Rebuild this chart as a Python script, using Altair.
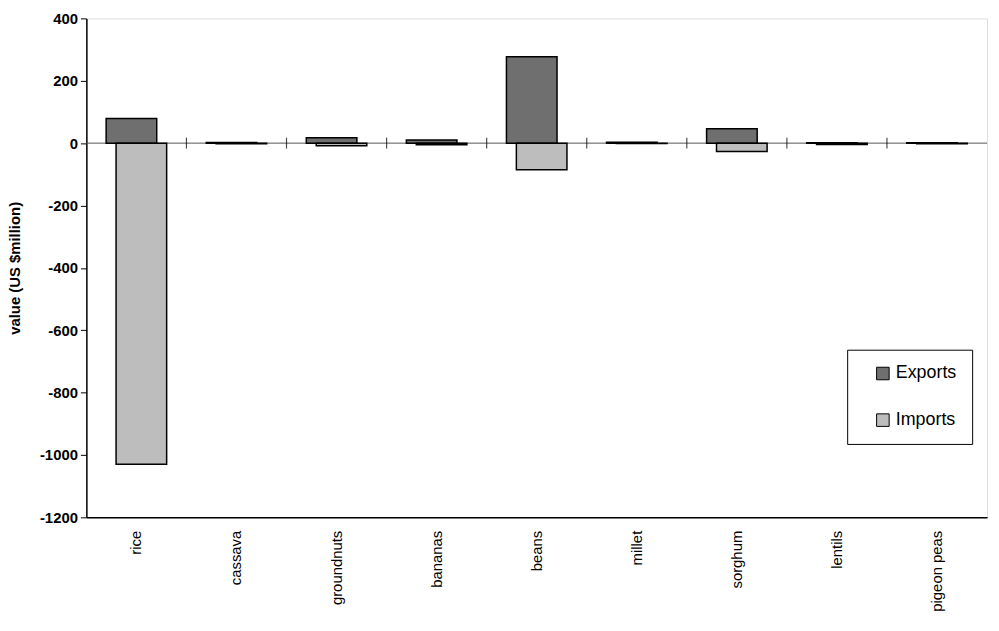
import altair as alt
import pandas as pd

categories = ["rice", "cassava", "groundnuts", "bananas", "beans", "millet", "sorghum", "lentils", "pigeon peas"]
exports = [79, 2, 17, 10, 277, 3, 46, 1, 1]
imports = [-1030, -2, -8, -5, -85, -1, -27, -4, -2]
y_ticks = [-1200, -1000, -800, -600, -400, -200, 0, 200, 400]

rows = []
for c, e, i in zip(categories, exports, imports):
    rows.append({"crop": c, "series": "Exports", "value": e})
    rows.append({"crop": c, "series": "Imports", "value": i})
df = pd.DataFrame(rows)
tick_df = pd.DataFrame({"crop": categories[:-1], "value": [0] * (len(categories) - 1)})
zero_df = pd.DataFrame({"value": [0]})

W, H = 908, 503
band = W / len(categories)
FONT = "Liberation Sans"

xenc = alt.X("crop:N", sort=categories, title=None,
             scale=alt.Scale(paddingInner=0, paddingOuter=0),
             axis=alt.Axis(labelAngle=-90, labelFont=FONT, labelFontSize=15,
                           labelColor="black", labelPadding=13, ticks=False,
                           domainColor="black", domainWidth=1.5,
                           labelBaseline="middle", labelAlign="right"))
yenc = alt.Y("value:Q", title="value (US $million)",
             scale=alt.Scale(domain=[-1200, 400], nice=False, zero=False),
             axis=alt.Axis(values=y_ticks, labelExpr="'' + datum.value", grid=False,
                           labelFont=FONT, labelFontSize=15, labelFontWeight="bold",
                           labelColor="black", tickColor="black", tickSize=6,
                           labelPadding=3,
                           domainColor="black", domainWidth=1.5,
                           titleFont=FONT, titleFontSize=15, titleFontWeight="bold",
                           titleColor="black", titleX=-72, titleBaseline="middle"))

color = alt.Color("series:N",
                  scale=alt.Scale(domain=["Exports", "Imports"], range=["#6f6f6f", "#bdbdbd"]),
                  legend=alt.Legend(title=None, orient="none", legendX=767, legendY=334,
                                    strokeColor="black", fillColor="white", padding=15,
                                    symbolType="square", symbolSize=160,
                                    symbolStrokeColor="black", symbolStrokeWidth=1,
                                    labelFont=FONT, labelFontSize=18, labelColor="black",
                                    rowPadding=29, symbolOffset=12, labelOffset=4,
                                    labelLimit=200, cornerRadius=0))

base = alt.Chart(df)
exp_bars = base.transform_filter(alt.datum.series == "Exports").mark_bar(
    width=51, xOffset=-5, stroke="black", strokeWidth=1.5).encode(x=xenc, y=yenc, color=color)
imp_bars = base.transform_filter(alt.datum.series == "Imports").mark_bar(
    width=51, xOffset=5, stroke="black", strokeWidth=1.5).encode(x=xenc, y=yenc, color=color)

zero_line = alt.Chart(zero_df).mark_rule(color="#555555", strokeWidth=1).encode(y="value:Q")
ticks = alt.Chart(tick_df).mark_tick(orient="vertical", size=11, thickness=1.2,
                                     color="black", xOffset=band / 2).encode(
    x=alt.X("crop:N", sort=categories), y="value:Q")

chart = alt.layer(zero_line, exp_bars, imp_bars, ticks).properties(
    width=W, height=H,
    autosize=alt.AutoSizeParams(type="none"),
    padding={"left": 79, "top": 8, "right": 4, "bottom": 100}
).configure_view(stroke="black", strokeWidth=1.5).configure(background="white")

chart.save("out.html", embed_options={"renderer": "svg", "actions": False})
